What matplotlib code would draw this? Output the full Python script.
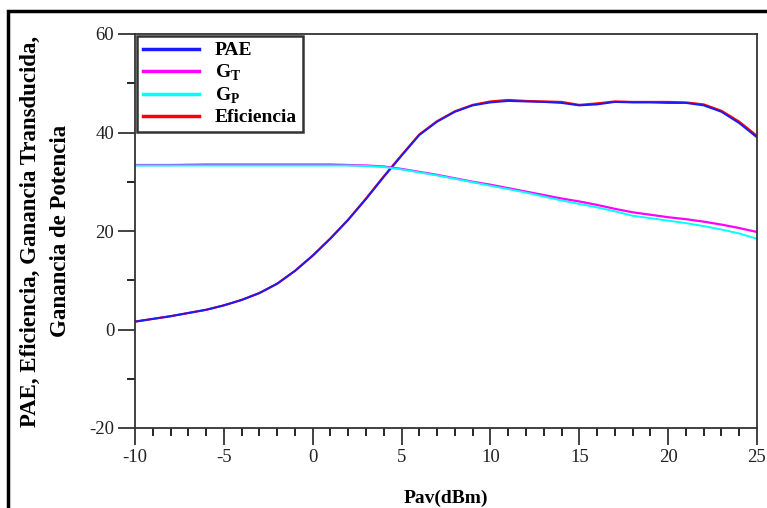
import numpy as np
import matplotlib
matplotlib.use("Agg")
import matplotlib.pyplot as plt
from matplotlib.patches import Rectangle
from matplotlib.ticker import MultipleLocator

plt.rcParams["font.family"] = ["Liberation Serif", "DejaVu Serif"]
plt.rcParams["mathtext.fontset"] = "custom"
plt.rcParams["mathtext.rm"] = "Liberation Serif"
plt.rcParams["mathtext.bf"] = "Liberation Serif:bold"
plt.rcParams["axes.unicode_minus"] = False

# Pav (dBm)
pav = [-10, -8, -6, -5, -4, -3, -2, -1, 0, 1, 2, 3, 4, 5, 6, 7, 8, 9, 10,
       11, 12, 13, 14, 15, 16, 17, 18, 19, 20, 21, 22, 23, 24, 25]

pae = [1.6, 2.7, 4.0, 4.9, 6.0, 7.4, 9.3, 11.9, 15.0, 18.5, 22.3, 26.5, 31.0,
       35.3, 39.5, 42.2, 44.2, 45.5, 46.1, 46.4, 46.3, 46.2, 46.0, 45.5, 45.7,
       46.2, 46.1, 46.1, 46.0, 46.0, 45.5, 44.2, 41.9, 39.0]

eficiencia = [1.6, 2.7, 4.0, 4.9, 6.0, 7.4, 9.3, 11.9, 15.0, 18.5, 22.3, 26.6,
              31.1, 35.4, 39.6, 42.3, 44.3, 45.6, 46.3, 46.6, 46.4, 46.3, 46.2,
              45.6, 45.9, 46.3, 46.2, 46.2, 46.2, 46.1, 45.7, 44.4, 42.2, 39.3]

g_t = [33.4, 33.4, 33.5, 33.5, 33.5, 33.5, 33.5, 33.5, 33.5, 33.5, 33.4, 33.3,
       33.1, 32.6, 32.0, 31.4, 30.7, 30.0, 29.4, 28.7, 28.0, 27.3, 26.6, 26.0,
       25.3, 24.5, 23.8, 23.3, 22.8, 22.4, 21.9, 21.3, 20.6, 19.8]

g_p = [33.3, 33.3, 33.3, 33.3, 33.3, 33.3, 33.3, 33.3, 33.3, 33.3, 33.3, 33.2,
       33.0, 32.5, 31.9, 31.3, 30.6, 29.9, 29.2, 28.5, 27.8, 27.0, 26.2, 25.5,
       24.8, 24.0, 23.1, 22.6, 22.1, 21.6, 21.0, 20.3, 19.5, 18.4]

fig = plt.figure(figsize=(7.67, 5.08), dpi=100)
ax = fig.add_axes([135 / 767, 80 / 508, 622 / 767, 394 / 508])

l_ef, = ax.plot(pav, eficiencia, color="#ff0000", lw=1.6)
l_pae, = ax.plot(pav, pae, color="#1a1aff", lw=1.4)
l_gt, = ax.plot(pav, g_t, color="#ff00ff", lw=1.6)
l_gp, = ax.plot(pav, g_p, color="#00ffff", lw=1.4)

ax.set_xlim(-10, 25)
ax.set_ylim(-20, 60)
ax.xaxis.set_major_locator(MultipleLocator(5))
ax.xaxis.set_minor_locator(MultipleLocator(1))
ax.yaxis.set_major_locator(MultipleLocator(20))
ax.yaxis.set_minor_locator(MultipleLocator(10))
ax.tick_params(which="major", direction="out", length=12, width=1.2,
               labelsize=13.5, colors="#222222", pad=3)
ax.tick_params(which="minor", direction="out", length=6, width=1.2)
for s in ax.spines.values():
    s.set_linewidth(1.3)
    s.set_color("#333333")

ax.set_xlabel("Pav(dBm)", fontsize=14, fontweight="bold", labelpad=17)
ax.set_ylabel("PAE, Eficiencia, Ganancia Transducida,\nGanancia de Potencia",
              fontsize=16.5, fontweight="bold", labelpad=13, linespacing=1.55)

leg = ax.legend([l_pae, l_gt, l_gp, l_ef],
                ["PAE", r"$\mathbf{G}_{\mathbf{T}}$", r"$\mathbf{G}_{\mathbf{P}}$",
                 "Eficiencia"],
                loc="upper left", bbox_to_anchor=(0.0, 1.0), frameon=True,
                fancybox=False, edgecolor="#333333", framealpha=1,
                prop={"weight": "bold", "size": 14}, handlelength=2.9,
                handletextpad=0.8, labelspacing=0.15, borderpad=0.3,
                borderaxespad=0.1)
leg.get_frame().set_linewidth(1.8)
for h in leg.get_lines():
    h.set_linewidth(2.5)

# outer frame around figure
fig.patches.append(Rectangle((8 / 767, -0.05), 1.0, 1 - 11 / 508 + 0.05,
                             transform=fig.transFigure, fill=False,
                             edgecolor="black", linewidth=2.5))

fig.savefig("out.png", dpi=100)
